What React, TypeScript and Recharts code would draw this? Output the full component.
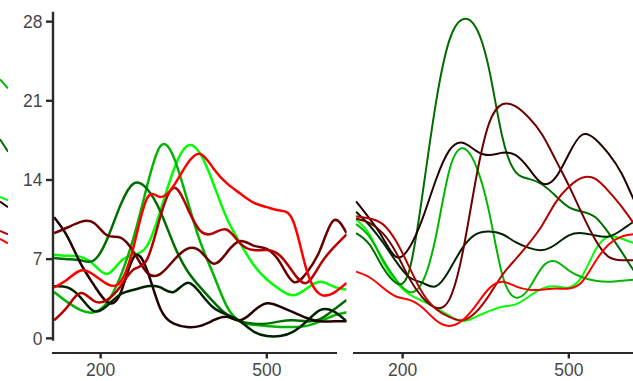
import { Line, LineChart, XAxis, YAxis } from "recharts";

// shared x grid (both facets)
const X_VALUES = [
  116, 140, 164, 188, 212, 236, 260, 284, 308, 332, 356, 380, 404, 428, 452,
  476, 500, 524, 548, 572, 596, 620, 644,
];
const X_TICKS = [200, 500];
const Y_TICKS = [0, 7, 14, 21, 28];

// left facet
const LEFT_LIME = [7.4, 7.3, 7.2, 6.5, 5.7, 6.8, 7.4, 8.2, 11.3, 14.9, 17.0, 16.3, 13.6, 10.6, 8.4, 6.5, 5.2, 4.3, 3.8, 4.4, 5.0, 4.6, 4.3];
const LEFT_GREEN = [4.1, 3.2, 2.5, 2.3, 3.2, 5.5, 9.0, 13.5, 17.0, 16.0, 12.3, 8.5, 5.6, 2.8, 1.5, 1.2, 1.1, 1.0, 1.0, 1.1, 1.5, 2.0, 2.3];
const LEFT_DKGREEN = [7.1, 7.0, 6.9, 6.9, 8.8, 11.8, 13.7, 13.2, 11.2, 8.3, 6.0, 4.5, 3.2, 2.1, 1.5, 1.3, 1.3, 1.5, 1.6, 1.5, 1.7, 2.5, 3.4];
const LEFT_BLACK_A = [10.7, 9.0, 6.6, 4.7, 3.2, 4.0, 7.2, 6.0, 2.6, 1.3, 1.0, 1.1, 1.6, 1.9, 1.6, 2.4, 3.1, 2.8, 2.3, 1.8, 1.5, 1.5, 1.5];
const LEFT_BLACK_B = [4.6, 4.5, 3.6, 2.4, 2.9, 3.9, 4.3, 4.6, 4.5, 4.1, 4.9, 4.0, 2.7, 2.1, 1.5, 0.6, 0.2, 0.2, 0.6, 1.5, 2.5, 2.4, 1.5];
const LEFT_MAROON = [9.3, 9.8, 10.3, 10.2, 9.1, 8.9, 7.6, 5.8, 5.7, 6.9, 7.9, 7.7, 6.6, 7.6, 8.6, 8.2, 7.9, 6.7, 5.0, 5.8, 7.8, 10.4, 9.3];
const LEFT_DKRED = [1.6, 2.8, 4.0, 3.3, 3.4, 4.6, 6.1, 7.0, 10.8, 13.3, 11.6, 9.5, 9.3, 9.6, 8.4, 7.8, 7.8, 7.3, 5.8, 4.9, 6.5, 8.0, 9.2];
const LEFT_RED = [4.5, 5.2, 6.0, 5.6, 4.8, 5.0, 8.2, 12.4, 12.5, 13.5, 15.4, 16.3, 15.0, 13.7, 12.8, 12.0, 11.6, 11.3, 10.3, 6.0, 3.9, 4.0, 4.9];

// right facet
const RIGHT_LIME = [10.5, 9.2, 6.8, 5.0, 3.9, 3.3, 2.7, 2.0, 1.5, 1.9, 2.4, 2.8, 3.0, 3.7, 4.4, 4.6, 4.5, 5.5, 7.8, 9.0, 8.8, 8.4, 8.3];
const RIGHT_GREEN = [10.1, 9.0, 7.0, 5.2, 4.1, 5.0, 9.0, 14.8, 16.8, 15.3, 11.2, 5.6, 3.6, 4.4, 6.3, 6.8, 6.0, 5.4, 5.1, 5.0, 5.1, 5.2, 5.2];
const RIGHT_DKGREEN = [9.3, 8.3, 6.3, 4.9, 6.0, 12.8, 20.8, 26.3, 28.2, 27.5, 23.8, 17.8, 14.7, 14.1, 13.6, 12.6, 11.6, 11.2, 10.7, 9.3, 7.6, 5.8, 4.5];
const RIGHT_BLACK_A = [12.1, 10.6, 8.9, 7.2, 8.0, 10.6, 14.0, 16.6, 17.3, 16.6, 16.2, 16.4, 16.2, 15.0, 13.7, 14.2, 16.3, 18.0, 17.6, 16.3, 14.5, 12.0, 10.0];
const RIGHT_BLACK_B = [11.2, 10.0, 8.5, 6.8, 5.4, 4.9, 4.6, 6.0, 8.0, 9.2, 9.45, 9.2, 8.5, 8.0, 7.8, 8.3, 9.1, 9.3, 9.1, 9.0, 9.6, 10.4, 11.0];
const RIGHT_MAROON = [10.6, 10.2, 9.3, 7.6, 5.3, 3.6, 2.7, 3.4, 7.5, 14.0, 19.0, 20.7, 20.5, 19.5, 18.0, 15.8, 13.5, 11.0, 8.7, 7.2, 6.9, 6.9, 6.9];
const RIGHT_DKRED = [10.8, 10.6, 10.1, 8.6, 6.3, 4.0, 2.6, 1.9, 1.6, 2.3, 3.8, 5.6, 7.0, 8.4, 10.0, 12.0, 13.4, 14.2, 14.1, 13.0, 11.6, 10.0, 8.8];
const RIGHT_RED = [5.9, 5.4, 4.5, 3.7, 3.4, 2.7, 1.6, 1.1, 1.6, 2.9, 4.4, 5.0, 4.6, 4.3, 4.3, 4.4, 4.4, 5.0, 6.8, 8.3, 9.0, 9.2, 9.1];

// tail end of the facet cropped off at the left edge
const PREV_X = [630, 644];
const PREV_GREEN = [22.9, 22.1];
const PREV_DKGREEN = [17.6, 16.5];
const PREV_LIME = [12.5, 12.2];
const PREV_BLACK = [12.1, 11.6];
const PREV_DKRED = [9.5, 9.2];
const PREV_RED = [8.8, 8.4];

const SERIES = [
  { key: "lime", color: "#00FF00" },
  { key: "green", color: "#00B600" },
  { key: "dkgreen", color: "#006D00" },
  { key: "blackA", color: "#240000" },
  { key: "blackB", color: "#002400" },
  { key: "maroon", color: "#6D0000" },
  { key: "dkred", color: "#B60000" },
  { key: "red", color: "#FF0000" },
];

const toRows = (xs: number[], cols: Record<string, number[]>) =>
  xs.map((x, i) => {
    const row: Record<string, number> = { x };
    for (const k of Object.keys(cols)) row[k] = cols[k][i];
    return row;
  });

const leftData = toRows(X_VALUES, {
  lime: LEFT_LIME, green: LEFT_GREEN, dkgreen: LEFT_DKGREEN, blackA: LEFT_BLACK_A,
  blackB: LEFT_BLACK_B, maroon: LEFT_MAROON, dkred: LEFT_DKRED, red: LEFT_RED,
});
const rightData = toRows(X_VALUES, {
  lime: RIGHT_LIME, green: RIGHT_GREEN, dkgreen: RIGHT_DKGREEN, blackA: RIGHT_BLACK_A,
  blackB: RIGHT_BLACK_B, maroon: RIGHT_MAROON, dkred: RIGHT_DKRED, red: RIGHT_RED,
});
const prevData = toRows(PREV_X, {
  green: PREV_GREEN, dkgreen: PREV_DKGREEN, lime: PREV_LIME, blackA: PREV_BLACK,
  dkred: PREV_DKRED, red: PREV_RED,
});

const FONT = '"Liberation Sans", Arial, sans-serif';
const AXIS = "#2a2a2a";
const TEXT = "#474747";
const Y_DOMAIN: [number, number] = [-0.21, 28.88];
const X_DOMAIN: [number, number] = [114, 644];
const PLOT_TOP = 11.7;
const PLOT_BOTTOM = 340.7;
const H = 381;
const FS = 17.5;

function XTick({ x, payload }: any) {
  return (
    <g>
      <line x1={x} x2={x} y1={353} y2={358.5} stroke={AXIS} strokeWidth={2.4} />
      <text x={x} y={376} textAnchor="middle" fill={TEXT} fontSize={FS} fontFamily={FONT}>
        {payload.value}
      </text>
    </g>
  );
}

function Panel({ data, left, showY, width }: { data: any[]; left: number; showY: boolean; width: number }) {
  return (
    <div style={{ position: "absolute", left, top: 0 }}>
      <LineChart
        width={360}
        height={H}
        data={data}
        margin={{ top: PLOT_TOP, right: 13.4, bottom: 0.3, left: showY ? 0 : 53 }}
      >
        <XAxis
          dataKey="x"
          type="number"
          domain={X_DOMAIN}
          ticks={X_TICKS}
          allowDataOverflow
          axisLine={false}
          tickLine={false}
          height={H - PLOT_BOTTOM - 0.3}
          tick={<XTick />}
        />
        <YAxis
          hide={!showY}
          width={53}
          type="number"
          domain={Y_DOMAIN}
          ticks={Y_TICKS}
          allowDataOverflow
          tickSize={7}
          tickMargin={3.5}
          axisLine={{ stroke: AXIS, strokeWidth: 2.4 }}
          tickLine={{ stroke: AXIS, strokeWidth: 2.4 }}
          tick={{ fill: TEXT, fontSize: FS, fontFamily: FONT }}
        />
        {SERIES.map((s) => (
          <Line
            key={s.key}
            type="natural"
            dataKey={s.key}
            stroke={s.color}
            strokeWidth={width}
            dot={false}
            isAnimationActive={false}
          />
        ))}
      </LineChart>
    </div>
  );
}

export default function App() {
  return (
    <div
      style={{
        position: "absolute",
        left: 0,
        top: 0,
        width: 633,
        height: H,
        overflow: "hidden",
        background: "#fff",
      }}
    >
      <div style={{ position: "absolute", left: 0, top: 0 }}>
        <LineChart width={8} height={H} data={prevData} margin={{ top: PLOT_TOP, right: 0, bottom: H - PLOT_BOTTOM, left: 0 }}>
          <XAxis dataKey="x" type="number" domain={[630, 644]} hide />
          <YAxis type="number" domain={Y_DOMAIN} hide allowDataOverflow />
          {SERIES.filter((s) => prevData[0][s.key] !== undefined).map((s) => (
            <Line key={s.key} type="linear" dataKey={s.key} stroke={s.color} strokeWidth={2} dot={false} isAnimationActive={false} />
          ))}
        </LineChart>
      </div>
      <Panel data={leftData} left={0} showY width={2.5} />
      <Panel data={rightData} left={302} showY={false} width={2} />
      {/* offset x axis lines */}
      <div style={{ position: "absolute", left: 51.7, top: 352.1, width: 285.6, height: 2.4, background: AXIS }} />
      <div style={{ position: "absolute", left: 352.7, top: 352.1, width: 290, height: 2.4, background: AXIS }} />
    </div>
  );
}
